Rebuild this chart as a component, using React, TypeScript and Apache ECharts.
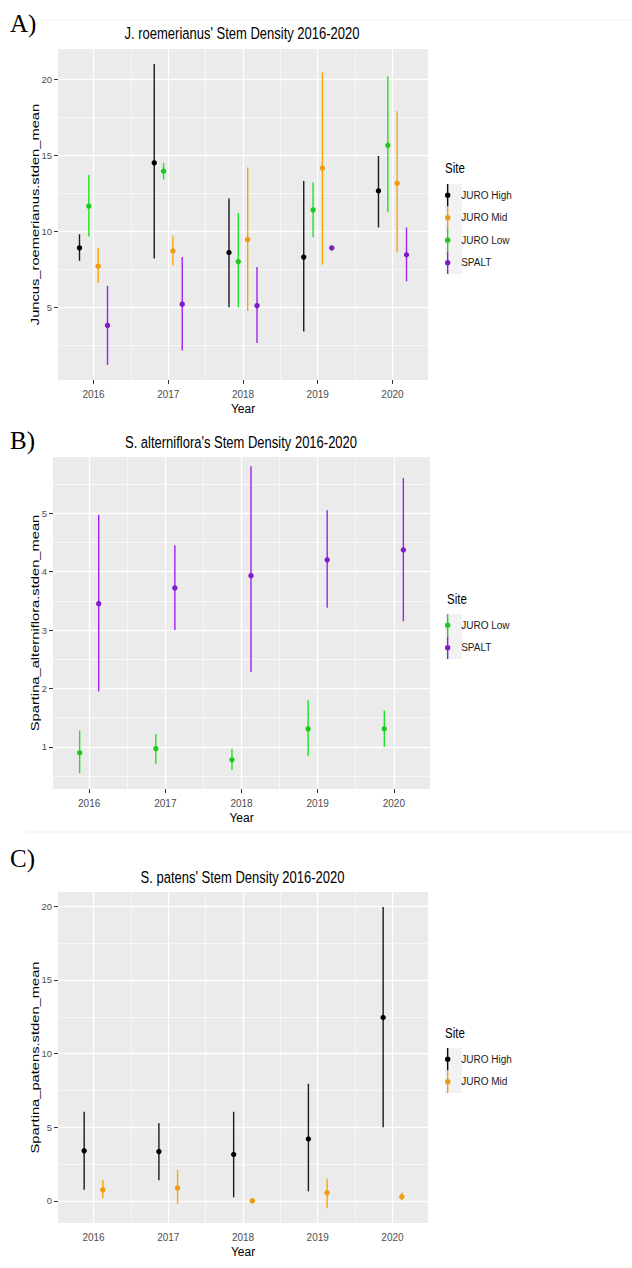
import React, { useEffect, useRef } from "react";
import * as echarts from "echarts";

const FONT = '"Liberation Sans", Arial, sans-serif';
const SERIF = '"Liberation Serif", "Times New Roman", serif';

// ---------- shared x axis ----------
const years = [2016, 2017, 2018, 2019, 2020];
const xMinor = [2016.5, 2017.5, 2018.5, 2019.5];
const xRange = [2015.525, 2020.475];

// ---------- Panel A: J. roemerianus ----------
const aHighMean = [8.9, 14.5, 8.6, 8.3, 12.65];
const aHighLo = [8.05, 8.2, 5.0, 3.4, 10.25];
const aHighHi = [9.8, 21.0, 12.15, 13.3, 14.95];
const aLowMean = [11.65, 13.95, 8.0, 11.4, 15.65];
const aLowLo = [9.65, 13.4, 5.0, 9.6, 11.25];
const aLowHi = [13.7, 14.5, 11.2, 13.2, 20.2];
const aMidMean = [7.7, 8.7, 9.45, 14.15, 13.15];
const aMidLo = [6.6, 7.75, 4.75, 7.8, 8.6];
const aMidHi = [8.9, 9.7, 14.2, 20.45, 17.9];
const aSpaltMean = [3.8, 5.2, 5.1, 8.9, 8.45];
const aSpaltLo = [1.2, 2.15, 2.65, 8.85, 6.7];
const aSpaltHi = [6.4, 8.3, 7.65, 8.95, 10.25];
const yTicksA = [5, 10, 15, 20];
const yMinorA = [2.5, 7.5, 12.5, 17.5];
const yRangeA = [0.21, 21.99];

// ---------- Panel B: S. alterniflora ----------
const bLowMean = [0.9, 0.97, 0.78, 1.31, 1.31];
const bLowLo = [0.55, 0.71, 0.61, 0.84, 1.0];
const bLowHi = [1.28, 1.22, 0.97, 1.8, 1.62];
const bSpaltMean = [3.45, 3.72, 3.93, 4.2, 4.37];
const bSpaltLo = [1.95, 3.0, 2.28, 3.38, 3.15];
const bSpaltHi = [4.97, 4.45, 5.8, 5.05, 5.6];
const yTicksB = [1, 2, 3, 4, 5];
const yMinorB = [0.5, 1.5, 2.5, 3.5, 4.5, 5.5];
const yRangeB = [0.28, 5.96];

// ---------- Panel C: S. patens ----------
const cHighMean = [3.4, 3.35, 3.15, 4.2, 12.45];
const cHighLo = [0.75, 1.4, 0.25, 0.65, 5.0];
const cHighHi = [6.05, 5.27, 6.05, 7.95, 19.95];
const cMidMean = [0.75, 0.87, 0.0, 0.55, 0.28];
const cMidLo = [0.18, -0.2, -0.15, -0.5, 0.05];
const cMidHi = [1.42, 2.1, 0.2, 1.5, 0.57];
const yTicksC = [0, 5, 10, 15, 20];
const yMinorC = [2.5, 7.5, 12.5, 17.5];
const yRangeC = [-1.5, 20.97];

const SITE_COLORS: Record<string, { line: string; point: string }> = {
  "JURO High": { line: "#1a1a1a", point: "#000000" },
  "JURO Mid": { line: "#FFA500", point: "#F09A10" },
  "JURO Low": { line: "#22E022", point: "#1FC81F" },
  SPALT: { line: "#A020F0", point: "#7E1CC9" },
};

const KEY_ICON =
  "path://M8,0 L9.3,0 L9.3,8.55 L8,8.55 Z M8,13.95 L9.3,13.95 L9.3,22.5 L8,22.5 Z M5.95,11.25 A2.7,2.7 0 1,0 11.35,11.25 A2.7,2.7 0 1,0 5.95,11.25 Z";

function rangeSeries(
  name: string,
  panel: number,
  offset: number,
  means: number[],
  los: number[],
  his: number[],
  extra: any = {}
) {
  const c = SITE_COLORS[name];
  return {
    type: "custom",
    name,
    xAxisIndex: panel,
    yAxisIndex: panel,
    z: 3,
    silent: true,
    itemStyle: { color: c.point },
    encode: { x: 0, y: [1, 2, 3] },
    data: years.map((yr, i) => [yr, means[i], los[i], his[i]]),
    renderItem: (_params: any, api: any) => {
      const x = api.value(0) + offset;
      const p = api.coord([x, api.value(1)]);
      const lo = api.coord([x, api.value(2)]);
      const hi = api.coord([x, api.value(3)]);
      return {
        type: "group",
        children: [
          {
            type: "line",
            shape: { x1: lo[0], y1: lo[1], x2: hi[0], y2: hi[1] },
            style: { stroke: c.line, lineWidth: 1.4 },
          },
          {
            type: "circle",
            shape: { cx: p[0], cy: p[1], r: 2.7 },
            style: { fill: c.point },
          },
        ],
      };
    },
    ...extra,
  };
}

function gridLines(yMajor: number[], yMinor: number[]) {
  const data: any[] = [];
  const minorStyle = { color: "#ffffff", width: 0.6, type: "solid" };
  const majorStyle = { color: "#ffffff", width: 1.3, type: "solid" };
  yMinor.forEach((v) => data.push({ yAxis: v, lineStyle: minorStyle }));
  xMinor.forEach((v) => data.push({ xAxis: v, lineStyle: minorStyle }));
  yMajor.forEach((v) => data.push({ yAxis: v, lineStyle: majorStyle }));
  years.forEach((v) => data.push({ xAxis: v, lineStyle: majorStyle }));
  return {
    markLine: {
      silent: true,
      z: 1,
      symbol: ["none", "none"],
      label: { show: false },
      emphasis: { disabled: true },
      data,
    },
  };
}

const tickLabelStyle = {
  color: "#4D4D4D",
  fontSize: 9.5,
  fontFamily: FONT,
};

function xAxis(idx: number) {
  return {
    type: "value",
    gridIndex: idx,
    min: xRange[0],
    max: xRange[1],
    axisLine: { show: false },
    axisTick: {
      show: true,
      length: 4,
      customValues: years,
      lineStyle: { color: "#333333", width: 1 },
    },
    axisLabel: {
      ...tickLabelStyle,
      fontSize: 10,
      customValues: years,
      margin: 9,
      formatter: (v: number) => String(v),
    },
    splitLine: { show: false },
    name: "Year",
    nameLocation: "middle",
    nameGap: 23,
    nameMoveOverlap: false,
    nameTextStyle: { color: "#000000", fontSize: 12, fontFamily: FONT },
  };
}

function yAxis(idx: number, range: number[], ticks: number[]) {
  return {
    type: "value",
    gridIndex: idx,
    min: range[0],
    max: range[1],
    axisLine: { show: false },
    axisTick: {
      show: true,
      length: 4,
      customValues: ticks,
      lineStyle: { color: "#333333", width: 1 },
    },
    axisLabel: {
      ...tickLabelStyle,
      customValues: ticks,
      margin: 6,
      formatter: (v: number) => String(v),
    },
    splitLine: { show: false },
  };
}

function legend(names: string[], top: number) {
  return {
    orient: "vertical",
    left: 445,
    top,
    padding: 0,
    itemWidth: 17,
    itemHeight: 22.5,
    itemGap: 0,
    selectedMode: false,
    symbolKeepAspect: true,
    textStyle: { color: "#1a1a1a", fontSize: 10, fontFamily: FONT },
    data: names.map((n) => ({ name: n, icon: KEY_ICON })),
  };
}

function keyBg(top: number, n: number) {
  return {
    type: "rect",
    z: 1,
    shape: { x: 445, y: top, width: 17, height: 22.5 * n },
    style: { fill: "#F2F2F2" },
  };
}

function txt(
  text: string,
  x: number,
  y: number,
  size: number,
  align: string,
  family = FONT,
  extra: any = {}
) {
  return {
    type: "text",
    z: 5,
    x,
    y,
    ...extra,
    style: {
      text,
      fill: "#000000",
      fontSize: size,
      fontFamily: family,
      align,
      verticalAlign: "middle",
    },
  };
}

// rotated, lengthened y-axis title (the reference figure is stretched vertically)
function yTitle(text: string, x: number, y: number) {
  return txt(text, x, y, 11.5, "center", FONT, { rotation: Math.PI / 2, scaleX: 1.28 });
}

function buildOption() {
  const legTopA = 184;
  const legTopB = 614;
  const legTopC = 1048;
  const tall = { scaleY: 1.3 };
  return {
    animation: false,
    backgroundColor: "#ffffff",
    textStyle: { fontFamily: FONT },
    grid: [
      { left: 58, top: 49, width: 370, height: 331, show: true, backgroundColor: "#EBEBEB", borderWidth: 0 },
      { left: 53, top: 457, width: 377, height: 332, show: true, backgroundColor: "#EBEBEB", borderWidth: 0 },
      { left: 58, top: 892, width: 370, height: 331, show: true, backgroundColor: "#EBEBEB", borderWidth: 0 },
    ],
    xAxis: [xAxis(0), xAxis(1), xAxis(2)],
    yAxis: [yAxis(0, yRangeA, yTicksA), yAxis(1, yRangeB, yTicksB), yAxis(2, yRangeC, yTicksC)],
    legend: [
      legend(["JURO High", "JURO Mid", "JURO Low", "SPALT"], legTopA),
      legend(["JURO Low", "SPALT"], legTopB),
      legend(["JURO High", "JURO Mid"], legTopC),
    ],
    graphic: [
      { type: "line", z: 0, shape: { x1: 33, y1: 20, x2: 632, y2: 20 }, style: { stroke: "#F0F0F0", lineWidth: 1 } },
      { type: "line", z: 0, shape: { x1: 25, y1: 832, x2: 632, y2: 832 }, style: { stroke: "#F0F0F0", lineWidth: 1 } },
      txt("A)", 10, 23, 25, "left", SERIF),
      txt("B)", 10, 440, 25, "left", SERIF),
      txt("C)", 10, 858, 25, "left", SERIF),
      txt("J. roemerianus' Stem Density 2016-2020", 242, 33, 13, "center", FONT, tall),
      txt("S. alterniflora's Stem Density 2016-2020", 241, 442, 13, "center", FONT, tall),
      txt("S. patens' Stem Density 2016-2020", 242.5, 877, 13, "center", FONT, tall),
      txt("Site", 445, 168, 11.5, "left", FONT, tall),
      txt("Site", 447, 599, 11.5, "left", FONT, tall),
      txt("Site", 445, 1033, 11.5, "left", FONT, tall),
      yTitle("Juncus_roemerianus.stden_mean", 35, 214.5),
      yTitle("Spartina_alterniflora.stden_mean", 35, 623),
      yTitle("Spartina_patens.stden_mean", 35, 1057.5),
      keyBg(legTopA, 4),
      keyBg(legTopB, 2),
      keyBg(legTopC, 2),
    ],
    series: [
      rangeSeries("JURO High", 0, -0.1875, aHighMean, aHighLo, aHighHi, gridLines(yTicksA, yMinorA)),
      rangeSeries("JURO Low", 0, -0.0625, aLowMean, aLowLo, aLowHi),
      rangeSeries("JURO Mid", 0, 0.0625, aMidMean, aMidLo, aMidHi),
      rangeSeries("SPALT", 0, 0.1875, aSpaltMean, aSpaltLo, aSpaltHi),
      rangeSeries("JURO Low", 1, -0.125, bLowMean, bLowLo, bLowHi, gridLines(yTicksB, yMinorB)),
      rangeSeries("SPALT", 1, 0.125, bSpaltMean, bSpaltLo, bSpaltHi),
      rangeSeries("JURO High", 2, -0.125, cHighMean, cHighLo, cHighHi, gridLines(yTicksC, yMinorC)),
      rangeSeries("JURO Mid", 2, 0.125, cMidMean, cMidLo, cMidHi),
    ],
  };
}

export default function App() {
  const ref = useRef<HTMLDivElement>(null);
  useEffect(() => {
    if (!ref.current) return;
    const chart = echarts.init(ref.current, null, { renderer: "svg" });
    chart.setOption(buildOption() as any);
    return () => chart.dispose();
  }, []);
  return (
    <div
      ref={ref}
      style={{ position: "absolute", left: 0, top: 0, width: 632, height: 1268, background: "#ffffff" }}
    />
  );
}
